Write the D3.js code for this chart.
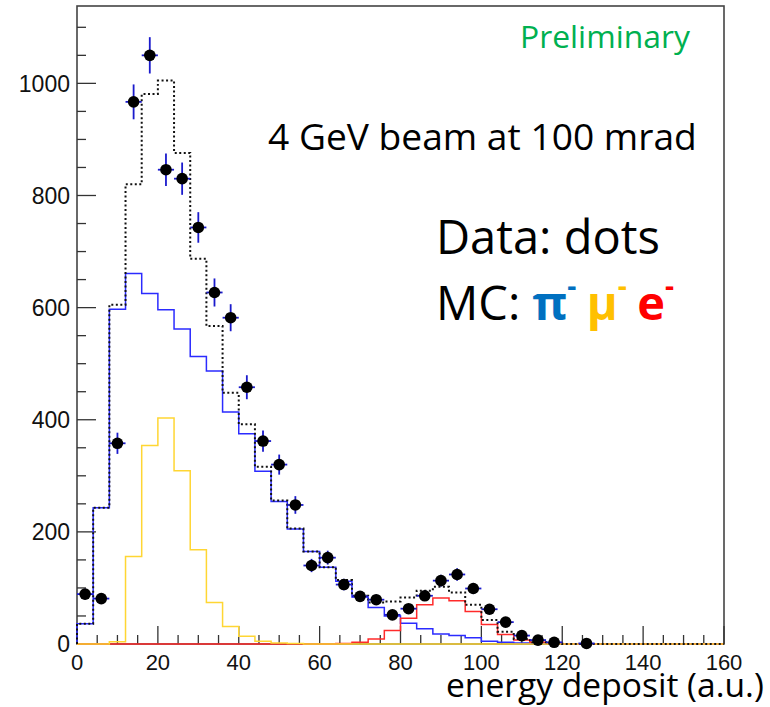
<!DOCTYPE html>
<html>
<head>
<meta charset="utf-8">
<script src="https://cdn.jsdelivr.net/npm/d3@7"></script>
<style>
  html, body { margin: 0; padding: 0; background: #fff; }
  svg { display: block; }
</style>
</head>
<body>
<svg id="chart" width="770" height="707"></svg>
<script>
// ---- data ----
const binEdgesStart = 0, binWidth = 4, nBins = 40;
// MC pi- (blue)
const piValues = [36, 243, 597, 661, 625, 596, 562, 513, 487, 414, 375, 308, 254, 205, 165, 137, 112, 84, 65, 50,
                  37, 27, 18, 15, 11, 5, 3, 2, 1, 1, 0, 0, 0, 0, 0, 0, 0, 0, 0, 0];
// MC mu- (yellow)
const muValues = [0, 0, 4, 156, 354, 403, 309, 168, 74, 31, 14, 5, 2, 1, 0, 0, 0, 0, 0, 0,
                  0, 0, 0, 0, 0, 0, 0, 0, 0, 0, 0, 0, 0, 0, 0, 0, 0, 0, 0, 0];
// MC e- (red)
const eValues  = [0, 0, 0, 0, 0, 0, 0, 0, 0, 0, 0, 0, 0, 0, 0, 0, 1, 3, 9, 24,
                  46, 70, 82, 77, 58, 35, 17, 7, 3, 1, 0, 0, 0, 0, 0, 0, 0, 0, 0, 0];
// MC total (black dotted)
const totalValues = [36, 243, 605, 820, 981, 1005, 876, 687, 567, 448, 392, 316, 256, 206, 165, 137, 114, 86, 74, 76,
                     83, 95, 102, 92, 70, 43, 22, 9, 3, 1, 0, 0, 0, 0, 0, 0, 0, 0, 0, 0];
// Data (dots), bin centres 2,6,...; null = empty bin
const dataValues = [89, 81, 358, 967, 1050, 846, 830, 743, 627, 582, 458, 362, 320, 248, 140, 154, 106, 85, 79, 52,
                    63, 86, 113, 124, 99, 62, 39, 15, 7, 3, null, 1, null, null, null, null, null, null, null, null];
const xTickValues = [0, 20, 40, 60, 80, 100, 120, 140, 160];
const yTickValues = [0, 200, 400, 600, 800, 1000];

// ---- layout ----
const svg = d3.select("#chart");
const L = 77, R = 724, T = 6, B = 644;
const x = d3.scaleLinear().domain([0, 160]).range([L, R]);
const y = d3.scaleLinear().domain([0, 1138]).range([B, T]);

const edges = d3.range(nBins + 1).map(i => binEdgesStart + i * binWidth);

function stepPath(vals) {
  let p = `M${x(edges[0])},${y(0)}`;
  vals.forEach((v, i) => {
    p += `L${x(edges[i])},${y(v)}L${x(edges[i + 1])},${y(v)}`;
  });
  p += `L${x(edges[nBins])},${y(0)}`;
  return p;
}

// frame (drawn first; histograms sit on top of it)
svg.append("rect").attr("x", L).attr("y", T).attr("width", R - L).attr("height", B - T)
  .attr("fill", "none").attr("stroke", "#444").attr("stroke-width", 1.6);

// y axis ticks
const yAxis = svg.append("g").attr("transform", `translate(${L},0)`);
d3.range(0, 1101, 50).forEach(v => {
  const major = v % 200 === 0;
  yAxis.append("line").attr("x1", 0).attr("x2", major ? 19 : 9)
    .attr("y1", y(v)).attr("y2", y(v)).attr("stroke", "#333").attr("stroke-width", 1.3);
});
yAxis.selectAll("text").data(yTickValues).join("text")
  .attr("x", -7).attr("y", d => y(d)).attr("dy", "0.36em")
  .attr("text-anchor", "end").attr("font-family", "Liberation Sans, Arial, sans-serif")
  .attr("font-size", 23).attr("fill", "#111").text(d => d);

// x axis ticks
const xAxis = svg.append("g").attr("transform", `translate(0,${B})`);
d3.range(0, 161, 5).forEach(v => {
  const major = v % 20 === 0;
  xAxis.append("line").attr("x1", x(v)).attr("x2", x(v))
    .attr("y1", 0).attr("y2", major ? -18 : -9).attr("stroke", "#333").attr("stroke-width", 1.3);
});
xAxis.selectAll("text").data(xTickValues).join("text")
  .attr("x", d => x(d)).attr("y", 26)
  .attr("text-anchor", "middle").attr("font-family", "Liberation Sans, Arial, sans-serif")
  .attr("font-size", 22).attr("fill", "#111").text(d => d);

const g = svg.append("g");

// histograms
g.append("path").attr("d", stepPath(piValues)).attr("fill", "none")
  .attr("stroke", "#2b2bff").attr("stroke-width", 1.5);
g.append("path").attr("d", stepPath(eValues)).attr("fill", "none")
  .attr("stroke", "#ff2a2a").attr("stroke-width", 1.5);
g.append("path").attr("d", stepPath(muValues)).attr("fill", "none")
  .attr("stroke", "#ffd633").attr("stroke-width", 1.5);
g.append("path").attr("d", stepPath(totalValues)).attr("fill", "none")
  .attr("stroke", "#111").attr("stroke-width", 2).attr("stroke-dasharray", "2,2.5");

// data points
const pts = dataValues.map((v, i) => ({ c: binEdgesStart + (i + 0.5) * binWidth, v }))
  .filter(d => d.v !== null);
const ptG = g.append("g");
ptG.selectAll("line.h").data(pts).join("line").attr("class", "h")
  .attr("x1", d => x(d.c - binWidth / 2)).attr("x2", d => x(d.c + binWidth / 2))
  .attr("y1", d => y(d.v)).attr("y2", d => y(d.v))
  .attr("stroke", "#1a1acc").attr("stroke-width", 1.8);
ptG.selectAll("line.v").data(pts).join("line").attr("class", "v")
  .attr("x1", d => x(d.c)).attr("x2", d => x(d.c))
  .attr("y1", d => y(d.v + Math.sqrt(d.v))).attr("y2", d => y(Math.max(0, d.v - Math.sqrt(d.v))))
  .attr("stroke", "#1a1acc").attr("stroke-width", 1.8);
ptG.selectAll("circle").data(pts).join("circle")
  .attr("cx", d => x(d.c)).attr("cy", d => y(d.v)).attr("r", 5.8).attr("fill", "#000");

// annotations (sized to the reference's text widths)
const calib = "'Open Sans', 'Noto Sans', sans-serif";
function fitWidth(sel, target) {
  const w = sel.node().getComputedTextLength();
  const s = +sel.attr("font-size");
  sel.attr("font-size", s * target / w);
  return sel;
}
fitWidth(svg.append("text").attr("x", 520).attr("y", 48)
  .attr("font-family", calib).attr("font-size", 26).attr("fill", "#00b050").text("Preliminary"), 170);
fitWidth(svg.append("text").attr("x", 268).attr("y", 150)
  .attr("font-family", calib).attr("font-size", 30).attr("fill", "#000").text("4 GeV beam at 100 mrad"), 429);
const dataTxt = fitWidth(svg.append("text").attr("x", 436).attr("y", 254)
  .attr("font-family", calib).attr("font-size", 34).attr("fill", "#000").text("Data: dots"), 224);
const bigSize = +dataTxt.attr("font-size");

const mc = svg.append("g").attr("font-family", calib);
let mx = 436;
const mcBase = 320;
function piece(txt, color, bold, size, dy) {
  const t = mc.append("text").attr("x", mx).attr("y", mcBase + dy)
    .attr("font-size", size).attr("fill", color).attr("font-weight", bold ? "bold" : "normal").text(txt);
  mx += t.node().getComputedTextLength();
  return t;
}
const supSize = bigSize * 0.6;
piece("MC:", "#000", false, bigSize, 0);
mx += bigSize * 0.26;
piece("π", "#0070c0", true, bigSize, 0);
piece("-", "#0070c0", true, supSize, -bigSize * 0.5);
mx += bigSize * 0.22;
piece("μ", "#ffc000", true, bigSize, 0);
piece("-", "#ffc000", true, supSize, -bigSize * 0.5);
mx += bigSize * 0.22;
piece("e", "#ff0000", true, bigSize, 0);
piece("-", "#ff0000", true, supSize, -bigSize * 0.5);

fitWidth(svg.append("text").attr("x", 446).attr("y", 697)
  .attr("font-family", calib).attr("font-size", 28).attr("fill", "#000").text("energy deposit (a.u.)"), 318);
</script>
</body>
</html>
